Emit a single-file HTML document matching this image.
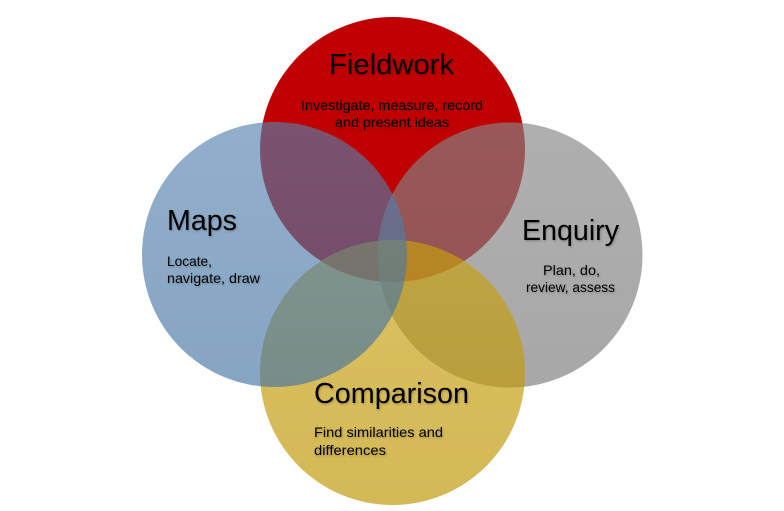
<!DOCTYPE html>
<html>
<head>
<meta charset="utf-8">
<style>
  html, body { margin:0; padding:0; background:#ffffff; }
  body { width:784px; height:511px; overflow:hidden; }
  svg { display:block; }
  text { font-family: "Liberation Sans", "DejaVu Sans", sans-serif; fill:#000; }
</style>
</head>
<body>
<svg width="784" height="511" viewBox="0 0 784 511" xmlns="http://www.w3.org/2000/svg">
  <defs>
    <linearGradient id="gm" x1="0" y1="0" x2="0" y2="1">
      <stop offset="0" stop-color="rgb(84,130,174)"/>
      <stop offset="1" stop-color="rgb(66,114,160)"/>
    </linearGradient>
    <linearGradient id="ge" x1="0" y1="0" x2="0" y2="1">
      <stop offset="0" stop-color="rgb(134,134,134)"/>
      <stop offset="1" stop-color="rgb(122,122,122)"/>
    </linearGradient>
    <linearGradient id="gc" x1="0" y1="0" x2="0" y2="1">
      <stop offset="0" stop-color="rgb(200,160,12)"/>
      <stop offset="1" stop-color="rgb(190,148,0)"/>
    </linearGradient>
    <filter id="sh" x="-10%" y="-30%" width="120%" height="160%">
      <feDropShadow dx="0.8" dy="1.2" stdDeviation="1" flood-color="#000" flood-opacity="0.25"/>
    </filter>
  </defs>

  <!-- Circles -->
  <circle cx="392.5" cy="149.5" r="132.5" fill="#C00000"/>
  <circle cx="510" cy="255" r="132.5" fill="url(#ge)" fill-opacity="0.66"/>
  <circle cx="392.5" cy="372.5" r="132.5" fill="url(#gc)" fill-opacity="0.66"/>
  <circle cx="274.5" cy="254.5" r="132.5" fill="url(#gm)" fill-opacity="0.64"/>

  <!-- Fieldwork -->
  <g filter="url(#sh)">
    <text x="329" y="74" font-size="29" textLength="125" lengthAdjust="spacingAndGlyphs">Fieldwork</text>
    <text x="301" y="110" font-size="14" textLength="182" lengthAdjust="spacingAndGlyphs">Investigate, measure, record</text>
    <text x="335" y="127" font-size="14" textLength="114" lengthAdjust="spacingAndGlyphs">and present ideas</text>

    <!-- Maps -->
    <text x="167" y="230" font-size="29" textLength="70" lengthAdjust="spacingAndGlyphs">Maps</text>
    <text x="167" y="266" font-size="14" textLength="45" lengthAdjust="spacingAndGlyphs">Locate,</text>
    <text x="167" y="283" font-size="14" textLength="93" lengthAdjust="spacingAndGlyphs">navigate, draw</text>

    <!-- Enquiry -->
    <text x="522" y="240" font-size="29" textLength="97" lengthAdjust="spacingAndGlyphs">Enquiry</text>
    <text x="543" y="275" font-size="14" textLength="57" lengthAdjust="spacingAndGlyphs">Plan, do,</text>
    <text x="526" y="292" font-size="14" textLength="89" lengthAdjust="spacingAndGlyphs">review, assess</text>

    <!-- Comparison -->
    <text x="314" y="403" font-size="29" textLength="155" lengthAdjust="spacingAndGlyphs">Comparison</text>
    <text x="314" y="437" font-size="14" textLength="129" lengthAdjust="spacingAndGlyphs">Find similarities and</text>
    <text x="314" y="455" font-size="14" textLength="72" lengthAdjust="spacingAndGlyphs">differences</text>
  </g>
</svg>
</body>
</html>
